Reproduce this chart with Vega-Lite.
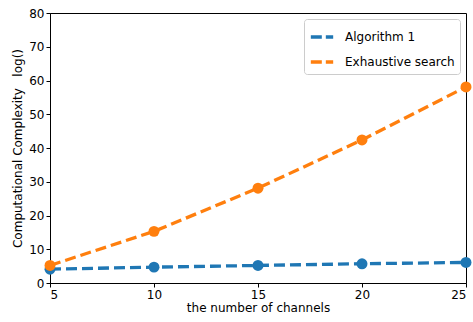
{
  "$schema": "https://vega.github.io/schema/vega-lite/v6.json",
  "width": 416,
  "height": 270,
  "autosize": "none",
  "padding": {"left": 50, "top": 13, "right": 7, "bottom": 39},
  "background": "white",
  "config": {
    "font": "DejaVu Sans",
    "view": {"stroke": "black", "strokeWidth": 1},
    "axis": {
      "grid": false,
      "domainColor": "black",
      "tickColor": "black",
      "labelColor": "black",
      "titleColor": "black",
      "labelFontSize": 12,
      "titleFontSize": 12,
      "titleFontWeight": "normal",
      "tickSize": 4,
      "labelPadding": 2
    }
  },
  "data": {
    "values": [
      {"n": 5, "c": 4.1, "s": "Algorithm 1"},
      {"n": 10, "c": 4.7, "s": "Algorithm 1"},
      {"n": 15, "c": 5.2, "s": "Algorithm 1"},
      {"n": 20, "c": 5.7, "s": "Algorithm 1"},
      {"n": 25, "c": 6.1, "s": "Algorithm 1"},
      {"n": 5, "c": 5.2, "s": "Exhaustive search"},
      {"n": 10, "c": 15.3, "s": "Exhaustive search"},
      {"n": 15, "c": 28.1, "s": "Exhaustive search"},
      {"n": 20, "c": 42.4, "s": "Exhaustive search"},
      {"n": 25, "c": 58.1, "s": "Exhaustive search"}
    ]
  },
  "mark": {
    "type": "line",
    "strokeWidth": 3.3,
    "strokeDash": [11, 5],
    "clip": false,
    "point": {"filled": true, "size": 120, "opacity": 1}
  },
  "encoding": {
    "x": {
      "field": "n",
      "type": "quantitative",
      "scale": {"domain": [5, 25], "nice": false, "zero": false},
      "axis": {"values": [5, 10, 15, 20, 25], "title": "the number of channels", "titlePadding": 2}
    },
    "y": {
      "field": "c",
      "type": "quantitative",
      "scale": {"domain": [0, 80], "nice": false},
      "axis": {"values": [0, 10, 20, 30, 40, 50, 60, 70, 80], "title": "Computational Complexity \u00a0\u00a0log()", "titlePadding": 4}
    },
    "color": {
      "field": "s",
      "type": "nominal",
      "scale": {"domain": ["Algorithm 1", "Exhaustive search"], "range": ["#1f77b4", "#ff7f0e"]},
      "legend": {
        "title": null,
        "orient": "top-right",
        "offset": 6,
        "symbolType": "stroke",
        "symbolStrokeWidth": 3.3,
        "symbolDash": [11, 4],
        "symbolSize": 500,
        "labelFontSize": 12,
        "labelColor": "black",
        "labelOffset": 10,
        "fillColor": "white",
        "strokeColor": "#cccccc",
        "cornerRadius": 3,
        "padding": 5,
        "rowPadding": 5
      }
    }
  }
}
